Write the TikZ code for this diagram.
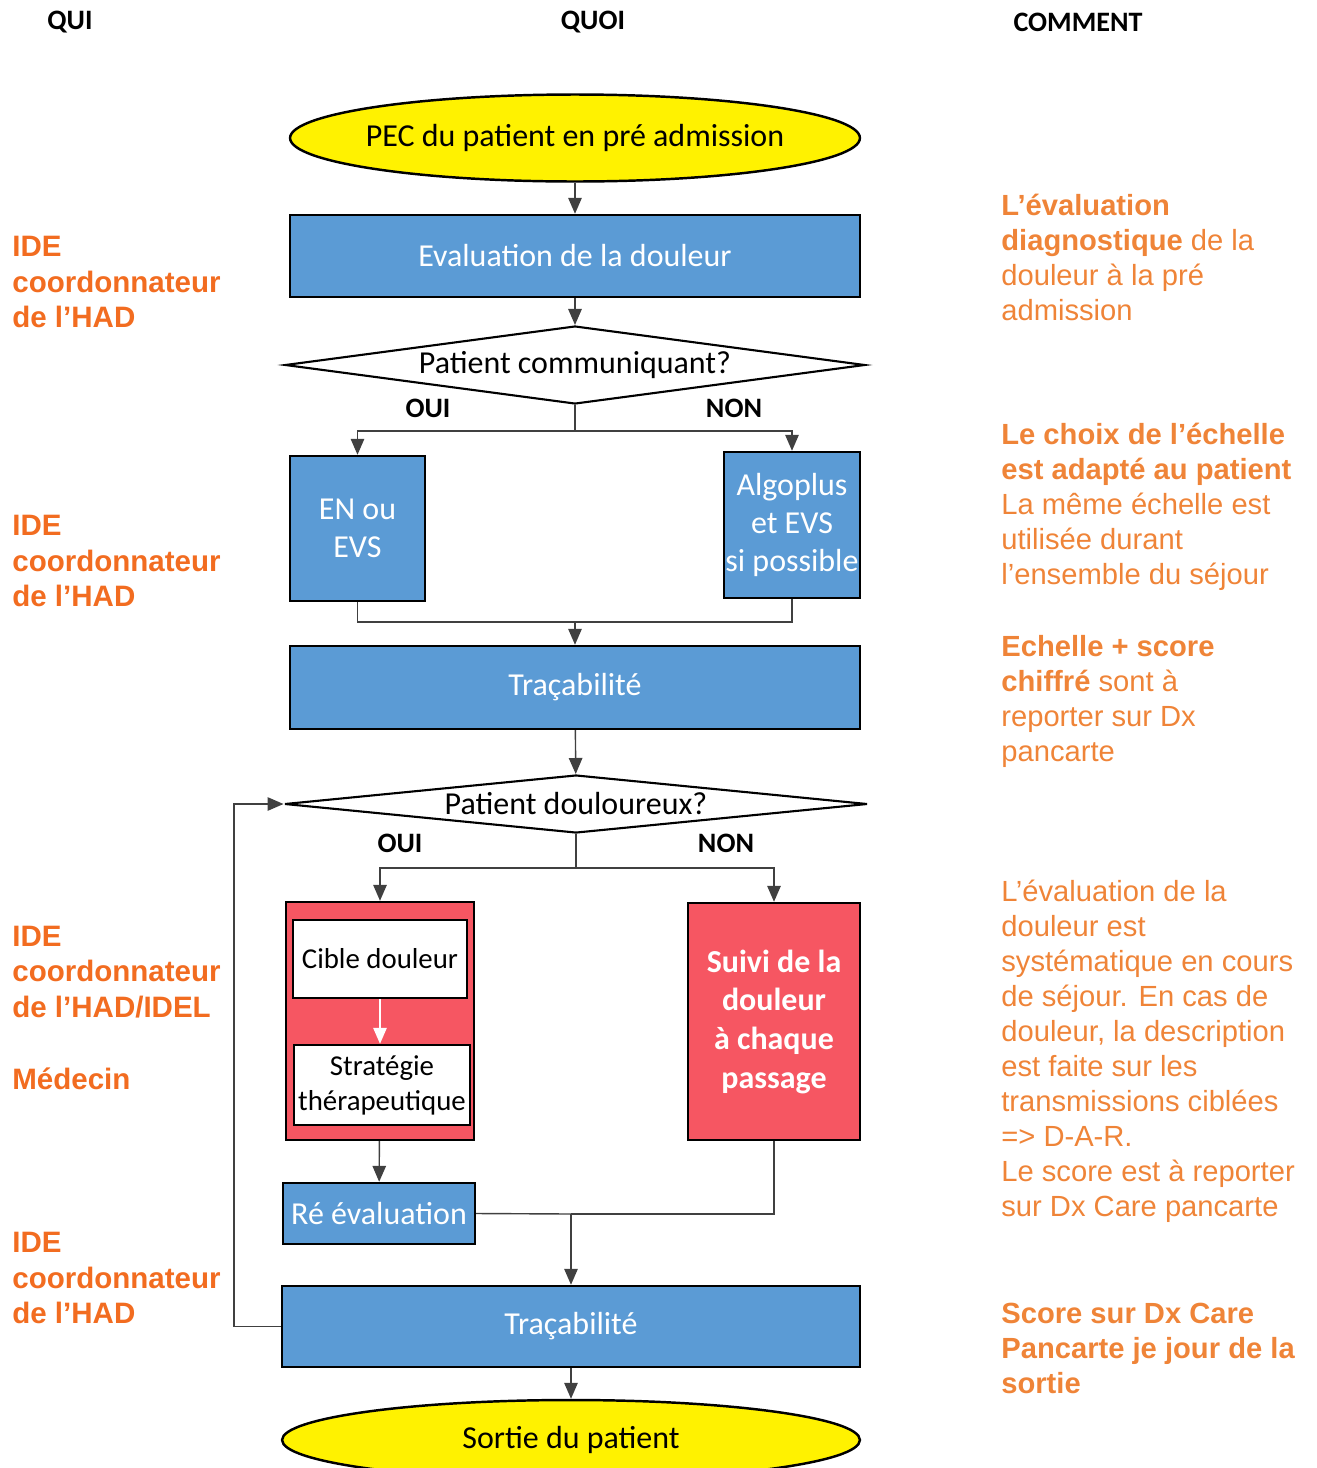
\documentclass[tikz,border=0pt]{standalone}
\usepackage{fontspec}
\setmainfont{Carlito}
\newfontfamily\arialfont{Liberation Sans}
\usepackage{tikz}
\usetikzlibrary{shapes.geometric}
\usetikzlibrary{arrows.meta}
\definecolor{boxblue}{RGB}{91,155,213}
\definecolor{boxred}{RGB}{246,86,98}
\definecolor{quiorange}{RGB}{242,108,32}
\definecolor{commentorange}{RGB}{239,132,56}

\begin{document}
\begin{tikzpicture}[x=0.02cm, y=-0.02cm,
    flow/.style={draw=black!75, line width=0.8pt, -{Triangle[length=0.32cm,width=0.27cm]}},
    link/.style={draw=black!75, line width=0.8pt},
    bluebox/.style={rectangle, draw=black, line width=1.4pt, fill=boxblue, text=white, inner sep=0pt, align=center, font=\fontsize{18.2}{21.8}\selectfont},
    redbox/.style={bluebox, fill=boxred},
    whitebox/.style={bluebox, fill=white, text=black, font=\fontsize{16.4}{20}\selectfont},
    terminal/.style={ellipse, draw=black, line width=1.4pt, fill=yellow, inner ysep=0pt, inner xsep=-1.5cm, font=\fontsize{18.2}{22}\selectfont},
    decision/.style={diamond, draw=black, line width=1.2pt, fill=white, inner sep=0pt, font=\fontsize{18.2}{22}\selectfont},
    answer/.style={font=\fontsize{16}{19}\selectfont\bfseries},
    header/.style={font=\fontsize{16}{19}\selectfont\bfseries},
    qui/.style={anchor=west, align=left, inner sep=0pt, text=quiorange, font=\arialfont\fontsize{16.8}{20.2}\selectfont\bfseries},
    comment/.style={anchor=north west, align=left, inner sep=0pt, text=commentorange, font=\arialfont\fontsize{16.6}{19.9}\selectfont}]
    \useasboundingbox (0,0) rectangle (1316,1468);

    % Columns
    \node[header] (qui) at (70,22) {QUI};
    \node[header] (quoi) at (593,22) {QUOI};
    \node[header] (comment) at (1078,22) {COMMENT};

    % Pre admission
    \node[terminal, minimum width=11.4cm, minimum height=1.74cm] (pec) at (575,138) {PEC du patient en pré admission};
    \node[bluebox, minimum width=11.4cm, minimum height=1.64cm] (evaldouleur) at (575,256) {Evaluation de la douleur};
    \node[decision, minimum width=11.6cm, minimum height=1.56cm, aspect=7.4] (communiquant) at (575,365) {Patient communiquant?};
    \node[answer] (oui1) at (428,408) {OUI};
    \node[answer] (non1) at (734,408) {NON};
    \node[bluebox, minimum width=2.7cm, minimum height=2.9cm] (enevs) at (357.5,528.5) {EN ou\\EVS};
    \node[bluebox, minimum width=2.72cm, minimum height=2.92cm] (algoplus) at (792,525) {Algoplus\\et EVS\\si possible};
    \node[bluebox, minimum width=11.4cm, minimum height=1.66cm] (tracabilite) at (575,687.5) {Traçabilité};

    % Sejour
    \node[decision, minimum width=11.66cm, minimum height=1.16cm, aspect=10] (douloureux) at (576,804) {Patient douloureux?};
    \node[answer] (oui2) at (400,843) {OUI};
    \node[answer] (non2) at (726,843) {NON};
    \node[redbox, minimum width=3.76cm, minimum height=4.76cm] (priseencharge) at (380,1021) {};
    \node[whitebox, minimum width=3.48cm, minimum height=1.56cm] (cible) at (380,959) {Cible douleur};
    \node[whitebox, minimum width=3.52cm, minimum height=1.6cm] (strategie) at (382,1085) {Stratégie\\thérapeutique};
    \node[redbox, minimum width=3.44cm, minimum height=4.74cm, font=\fontsize{18.2}{22}\selectfont\bfseries] (suivi) at (774,1021.5) {Suivi de la\\douleur\\à chaque\\passage};
    \node[bluebox, minimum width=3.84cm, minimum height=1.22cm] (reevaluation) at (379,1213.5) {Ré évaluation};
    \node[bluebox, minimum width=11.56cm, minimum height=1.62cm] (tracabilitefin) at (571,1326.5) {Traçabilité};
    \node[terminal, minimum width=11.56cm, minimum height=1.6cm] (sortie) at (571,1440) {Sortie du patient};

    % Branch points
    \coordinate (split1) at (575,431);
    \coordinate (join1) at (575,622);
    \coordinate (split2) at (576,868);
    \coordinate (join2) at (571,1214);
    \coordinate (loopback) at (234,1326.5);

    % Connectors
    \draw[flow] (pec) -- (evaldouleur);
    \draw[flow] (evaldouleur) -- (communiquant);
    \draw[link] (communiquant.south) -- (split1);
    \draw[flow] (split1) -| (enevs.north);
    \draw[flow] (split1) -| (algoplus.north);
    \draw[link] (enevs.south) |- (join1);
    \draw[link] (algoplus.south) |- (join1);
    \draw[flow] (join1) -- (tracabilite.north);
    \draw[flow] (tracabilite) -- (douloureux);
    \draw[link] (douloureux.south) -- (split2);
    \draw[flow] (split2) -| (priseencharge.north);
    \draw[flow] (split2) -| (suivi.north);
    \draw[flow, draw=white] (cible.south) -- (cible.south |- strategie.north);
    \draw[flow] (priseencharge) -- (reevaluation);
    \draw[link] (reevaluation.east) -- (join2);
    \draw[link] (suivi.south) |- (join2);
    \draw[flow] (join2) -- (tracabilitefin.north);
    \draw[flow] (tracabilitefin.west) -- (loopback) |- (douloureux.west);
    \draw[flow] (tracabilitefin) -- (sortie);

    % Qui
    \node[qui] (qui1) at (12,282) {IDE\\coordonnateur\\de l’HAD};
    \node[qui] (qui2) at (12,561) {IDE\\coordonnateur\\de l’HAD};
    \node[qui] (qui3) at (12,972) {IDE\\coordonnateur\\de l’HAD/IDEL};
    \node[qui] (medecin) at (12,1079) {Médecin};
    \node[qui] (qui4) at (12,1278) {IDE\\coordonnateur\\de l’HAD};

    % Comment
    \node[comment] (comment1) at (1001,194) {\textbf{L’évaluation}\\\textbf{diagnostique} de la\\douleur à la pré\\admission};
    \node[comment] (comment2) at (1001,423) {\textbf{Le choix de l’échelle}\\\textbf{est adapté au patient}\\La même échelle est\\utilisée durant\\l’ensemble du séjour};
    \node[comment] (comment3) at (1001,635) {\textbf{Echelle + score}\\\textbf{chiffré} sont à\\reporter sur Dx\\pancarte};
    \node[comment] (comment4) at (1001,880) {L’évaluation de la\\douleur est\\systématique en cours\\de séjour. En cas de\\douleur, la description\\est faite sur les\\transmissions ciblées\\=> D-A-R.\\Le score est à reporter\\sur Dx Care pancarte};
    \node[comment] (comment5) at (1001,1303) {\textbf{Score sur Dx Care}\\\textbf{Pancarte je jour de la}\\\textbf{sortie}};
\end{tikzpicture}
\end{document}
